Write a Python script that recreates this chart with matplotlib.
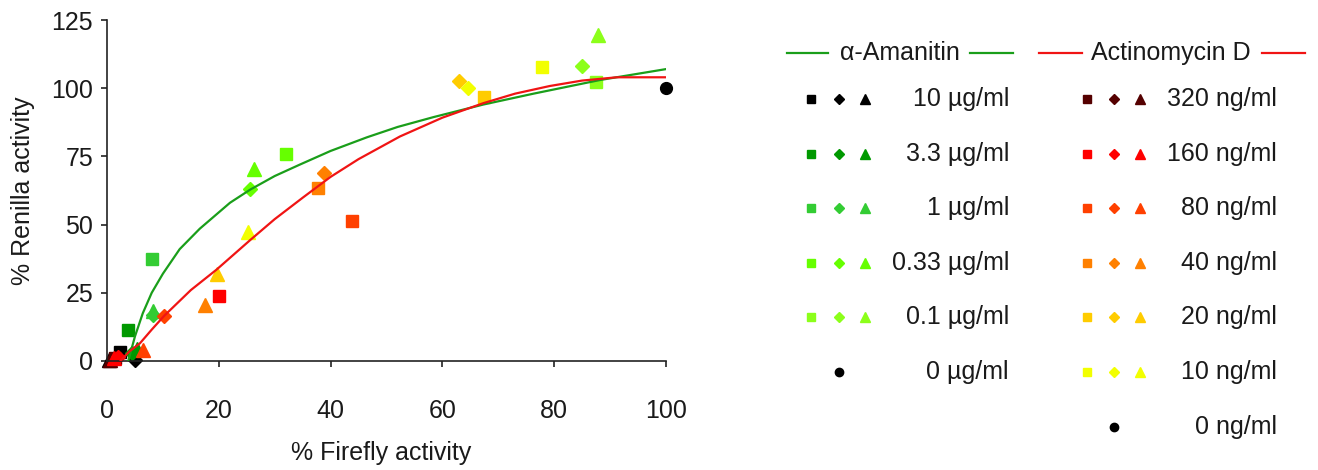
import matplotlib
matplotlib.use("Agg")
import matplotlib.pyplot as plt

plt.rcParams['font.family'] = ['Liberation Sans', 'DejaVu Sans']

# alpha-Amanitin doses (square / diamond / triangle = three experiments)
aman_labels = ['10 µg/ml', '3.3 µg/ml', '1 µg/ml', '0.33 µg/ml', '0.1 µg/ml']
aman_colors = ['#000000', '#009900', '#33cc33', '#66ff00', '#8cff1a']
aman_sq_x = [2.3, 3.8, 8.0, 32.0, 87.5]
aman_sq_y = [3.2, 11.5, 37.3, 75.7, 102.3]
aman_di_x = [5.0, 4.5, 8.2, 25.6, 85.0]
aman_di_y = [0.5, 3.0, 17.0, 62.9, 108.0]
aman_tr_x = [0.3, 5.3, 8.2, 26.3, 87.8]
aman_tr_y = [0.2, 4.5, 18.5, 70.4, 119.4]

# Actinomycin D doses
actd_labels = ['320 ng/ml', '160 ng/ml', '80 ng/ml', '40 ng/ml', '20 ng/ml', '10 ng/ml']
actd_colors = ['#550000', '#ff0000', '#ff4000', '#ff8000', '#ffcc00', '#f2ff00']
actd_sq_x = [1.5, 20.0, 43.8, 37.8, 67.4, 77.9]
actd_sq_y = [1.2, 23.9, 51.5, 63.5, 96.8, 107.8]
actd_di_x = [1.2, 2.0, 10.2, 38.8, 63.0, 64.5]
actd_di_y = [0.8, 1.5, 16.5, 68.8, 102.6, 99.9]
actd_tr_x = [0.5, 1.2, 6.5, 17.5, 19.7, 25.2]
actd_tr_y = [0.2, 1.0, 4.0, 20.5, 31.9, 47.4]

# untreated control
ctrl_x = [100]
ctrl_y = [100]

# trend lines
aman_fit_x = [3.8, 5, 6.4, 8, 10, 13, 16.6, 22, 25.6, 30, 34.5, 40, 46.5, 52, 58.4, 67.3, 76.3, 88.2, 100]
aman_fit_y = [0, 9, 17.5, 25, 32, 41, 48.5, 58, 62.8, 67.8, 72, 77, 82, 85.8, 89.4, 94, 98, 103, 107]
actd_fit_x = [2.4, 4, 5.9, 8, 10.2, 15, 19.6, 25.6, 30, 35.1, 40, 45, 52.4, 60, 67.3, 73, 79.2, 85, 91.2, 100]
actd_fit_y = [0, 3.5, 6.5, 11.5, 16.5, 26, 33.5, 44.3, 52, 60, 67.5, 74, 82.3, 89.2, 94.5, 98, 100.8, 102.8, 104, 104]

W, H = 1318, 470
fig = plt.figure(figsize=(W / 100, H / 100), dpi=100)
ax = fig.add_axes([107 / W, (H - 361) / H, 559 / W, 341 / H])

green = '#1a9e1a'
red = '#f01414'

for i in range(len(aman_labels)):
    c = aman_colors[i]
    ax.plot(aman_sq_x[i], aman_sq_y[i], 's', color=c, ms=8.5, clip_on=False, zorder=2)
    ax.plot(aman_di_x[i], aman_di_y[i], 'D', color=c, ms=7, clip_on=False, zorder=2)
    ax.plot(aman_tr_x[i], aman_tr_y[i], '^', color=c, ms=9.5, clip_on=False, zorder=2)

for i in range(len(actd_labels)):
    c = actd_colors[i]
    ax.plot(actd_sq_x[i], actd_sq_y[i], 's', color=c, ms=8.5, clip_on=False, zorder=2)
    ax.plot(actd_di_x[i], actd_di_y[i], 'D', color=c, ms=7, clip_on=False, zorder=2)
    ax.plot(actd_tr_x[i], actd_tr_y[i], '^', color=c, ms=9.5, clip_on=False, zorder=2)

ax.plot(ctrl_x, ctrl_y, 'o', color='black', ms=8.5, clip_on=False, zorder=2)

ax.plot(aman_fit_x, aman_fit_y, color=green, lw=1.6, zorder=3)
ax.plot(actd_fit_x, actd_fit_y, color=red, lw=1.6, zorder=3)

ax.set_xlim(0, 100)
ax.set_ylim(0, 125)
ax.set_xticks([0, 20, 40, 60, 80, 100])
ax.set_yticks([0, 25, 50, 75, 100, 125])
for s in ['top', 'right']:
    ax.spines[s].set_visible(False)
for s in ['left', 'bottom']:
    ax.spines[s].set_color('#222222')
    ax.spines[s].set_linewidth(1.2)
ax.tick_params(axis='both', direction='out', length=4, width=1.2, color='#222222',
               labelsize=18, labelcolor='#1a1a1a')
ax.tick_params(axis='x', pad=23)
ax.tick_params(axis='y', pad=6)

ax.set_xlabel('% Firefly activity', fontsize=18, color='#1a1a1a')
ax.set_ylabel('% Renilla activity', fontsize=18, color='#1a1a1a')
ax.xaxis.label.set_va('center')
ax.yaxis.label.set_va('center')
ax.xaxis.set_label_coords(0.49, -0.27)
ax.yaxis.set_label_coords(-0.15, 0.5)

# hand-built legend in pixel coordinates
lg = fig.add_axes([0, 0, 1, 1], zorder=-1)
lg.set_xlim(0, W)
lg.set_ylim(H, 0)
lg.axis('off')

head_y = 53
lg.plot([787, 828], [head_y, head_y], color=green, lw=1.6)
lg.plot([970, 1013], [head_y, head_y], color=green, lw=1.6)
lg.text(900, head_y, 'α-Amanitin', fontsize=18, ha='center', va='center', color='#1a1a1a')
lg.plot([1039, 1082], [head_y, head_y], color=red, lw=1.6)
lg.plot([1262, 1305], [head_y, head_y], color=red, lw=1.6)
lg.text(1171, head_y, 'Actinomycin D', fontsize=18, ha='center', va='center', color='#1a1a1a')

row0, step = 99, 54.6


def legend_row(y, xs, color, label, x_end):
    lg.plot(xs[0], y, 's', color=color, ms=5.5)
    lg.plot(xs[1], y, 'D', color=color, ms=5.2)
    lg.plot(xs[2], y, '^', color=color, ms=7)
    lg.text(x_end, y, label, fontsize=18, ha='right', va='center', color='#1a1a1a')


col1 = [811, 839, 865]
col2 = [1087, 1114, 1140]
for i in range(len(aman_labels)):
    legend_row(row0 + step * i, col1, aman_colors[i], aman_labels[i], 1009)
y = row0 + step * len(aman_labels)
lg.plot(col1[1], y, 'o', color='black', ms=6)
lg.text(1009, y, '0 µg/ml', fontsize=18, ha='right', va='center', color='#1a1a1a')

for i in range(len(actd_labels)):
    legend_row(row0 + step * i, col2, actd_colors[i], actd_labels[i], 1277)
y = row0 + step * len(actd_labels)
lg.plot(col2[1], y, 'o', color='black', ms=6)
lg.text(1277, y, '0 ng/ml', fontsize=18, ha='right', va='center', color='#1a1a1a')

fig.savefig('out.png', dpi=100)
